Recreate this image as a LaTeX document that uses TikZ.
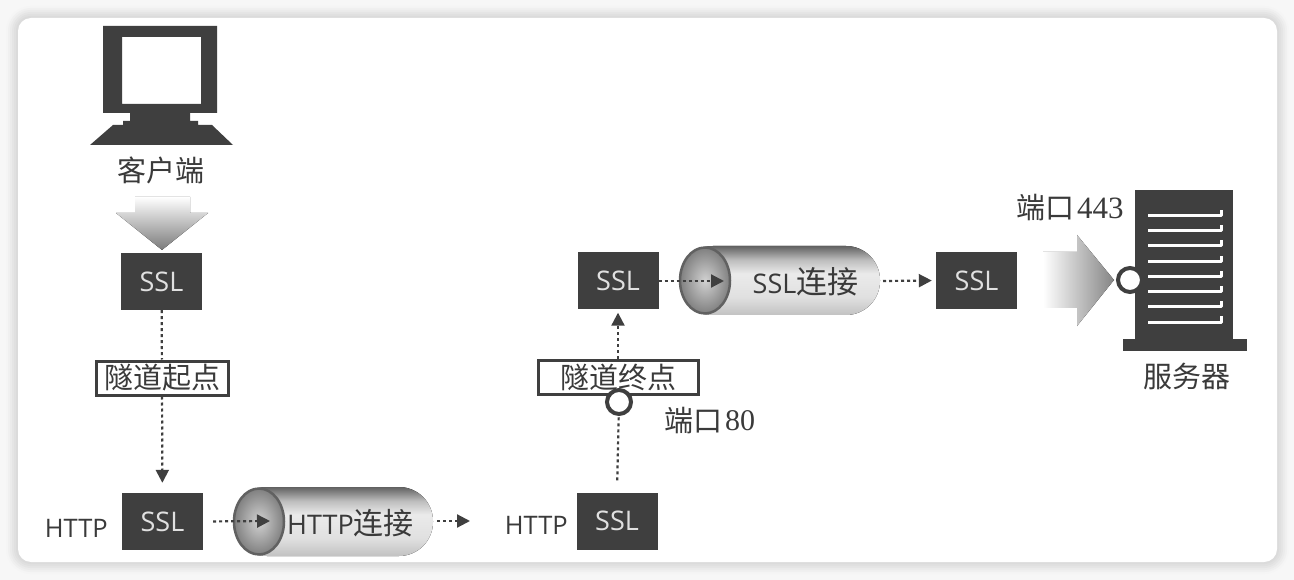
\documentclass[tikz,border=0pt]{standalone}
\usepackage{fontspec}
\setmainfont{Liberation Serif}
\setsansfont{Open Sans}
\newfontfamily\cjk{Noto Sans CJK SC}
\usetikzlibrary{arrows.meta,shadings,fadings,calc,shapes.geometric}
\definecolor{ink}{HTML}{3F3F3F}
\definecolor{txt}{HTML}{3A3A3A}
\pgfdeclareverticalshading{tubeshade}{100bp}{color(0bp)=(black!24); color(25bp)=(black!24); color(38bp)=(black!12); color(55bp)=(black!8); color(65bp)=(black!26); color(75bp)=(black!62); color(100bp)=(black!62)}
\tikzset{
  ssl/.style={fill=ink,draw=none,text=white!88!black,minimum width=81pt,minimum height=57pt,inner sep=0pt,font=\sffamily\fontsize{27}{27}\selectfont},
  lat/.style={text=txt,inner sep=0pt,font=\sffamily\fontsize{25.5}{26}\selectfont},
  tubetext/.style={text=txt,inner sep=0pt,font=\sffamily\fontsize{27}{27}\selectfont},
  cn/.style={text=txt,inner sep=0pt,font=\cjk\fontsize{29}{29}\selectfont},
  tag/.style={cn,draw=ink,line width=3pt,fill=white,minimum height=34pt},
  port/.style={draw=ink,line width=4pt,fill=white,circle,minimum size=24pt,inner sep=0pt},
  flow/.style={draw=ink,line width=2.2pt,dash pattern=on 3pt off 3pt},
  flowtip/.style={flow,-{Triangle[length=13pt,width=13pt,fill=ink]}},
  solidshape/.style={fill=ink,draw=none},
  tube/.style={rounded corners=34pt,shading=tubeshade,draw=none},
  tubeend/.style={draw=black!62,line width=2.5pt,inner color=black!18,outer color=black!50}
}
\begin{document}
\begin{tikzpicture}[x=1pt,y=-1pt]
\useasboundingbox (0,0) rectangle (1294,580);
% page and soft card shadow
\fill[white!97!black] (0,0) rectangle (1294,580);
\foreach \gap/\tone in {12/96,10/94,8/92,6/90,4/88,2/86}
  \fill[black!\the\numexpr100-\tone\relax,rounded corners=13pt+\gap pt] (18-\gap,18-\gap) rectangle (1277+\gap,562+\gap);
\fill[white,rounded corners=13pt] (18,18) rectangle (1277,562);

% computer
\fill[solidshape,even odd rule] (103,26) rectangle (217,113) (122,37) rectangle (201,104);
\fill[solidshape] (130,113) -- (130,121) -- (123,121) -- (123,125) -- (113,125) -- (90,145) -- (233,145) -- (212,125) -- (198,125) -- (198,121) -- (190,121) -- (190,113) -- cycle;
\node[cn] (client) at (161,170) {客户端};

% client arrow
\fill[top color=white,bottom color=black!52,draw=none] (135,197) -- (190,197) -- (190,213) -- (208,213) -- (162,250) -- (116,213) -- (135,213) -- cycle;

% SSL boxes
\node[ssl] (sslA) at (161.5,281.5) {SSL};
\node[ssl] (sslB) at (162.5,521.5) {SSL};
\node[ssl] (sslC) at (618,281) {SSL};
\node[ssl] (sslD) at (617,521) {SSL};
\node[ssl] (sslE) at (976.5,280.5) {SSL};
\node[lat,anchor=east] (httpB) at (108,528) {HTTP};
\node[lat,anchor=east] (httpD) at (568,525) {HTTP};

% tubes
\fill[tube] (233,487) rectangle (433,556);
\fill[tube] (679,246) rectangle (880,315);
\node[tubeend,ellipse,minimum width=50pt,minimum height=66pt] (endB) at (259,521.5) {};
\node[tubeend,ellipse,minimum width=50pt,minimum height=66pt] (endC) at (705,280.5) {};
\node[tubetext] (tubeB) at (350.5,523) {HTTP\cjk{\fontsize{30}{30}\selectfont 连接}};
\node[tubetext] (tubeC) at (805.5,282) {SSL\cjk{\fontsize{31}{31}\selectfont 连接}};
\coordinate (tipB) at (270,521);
\coordinate (tipC) at (724,281);
\coordinate (tubeBout) at (437,521);
\coordinate (tubeBend) at (470,521);
\coordinate (tubeCout) at (883,281);

% tags
\node[tag,minimum width=132pt] (start) at (162,378) {隧道起点};
\node[tag,minimum width=160pt] (finish) at (618,377) {隧道终点};

% ports
\node[port] (portF) at (619,402) {};
\node[cn,anchor=east] (p80cn) at (723,421) {端口};
\node[text=txt,inner sep=0pt,font=\fontsize{30}{30}\selectfont,anchor=west] (p80) at (725,421) {80};
\node[cn,anchor=east] (p443cn) at (1075,208) {端口};
\node[text=txt,inner sep=0pt,font=\fontsize{31}{31}\selectfont,anchor=west] (p443) at (1077,208) {443};

% server
\fill[solidshape] (1135,190) rectangle (1233,339);
\fill[solidshape] (1123,339) rectangle (1247,351);
\foreach \yy in {216,231,246,262,277,292,307,322}
  \draw[white,line width=3pt,line join=round] (1148,\yy) -- (1221,\yy) -- (1221,\yy-6);
\node[cn] (server) at (1187,376) {服务器};

% server arrow
\fill[left color=white,right color=black!48,draw=none] (1043,252) -- (1077,252) -- (1077,235) -- (1114,280) -- (1077,326) -- (1077,308) -- (1043,308) -- cycle;
\node[port] (portS) at (1130,280) {};

% connectors
\draw[flow] (sslA) -- (start);
\draw[flowtip,shorten >=10pt] (start) -- (sslB);
\draw[flowtip,shorten <=10pt] (sslB.east) -- (tipB);
\draw[flowtip] (tubeBout) -- (tubeBend);
\draw[flow,shorten <=12pt] (sslD.north) -- (portF);
\draw[flowtip,shorten >=3pt] (finish.north) -- (sslC.south);
\draw[flowtip] (sslC.east) -- (tipC);
\draw[flowtip,shorten >=4pt] (tubeCout) -- (sslE.west);
\end{tikzpicture}
\end{document}
